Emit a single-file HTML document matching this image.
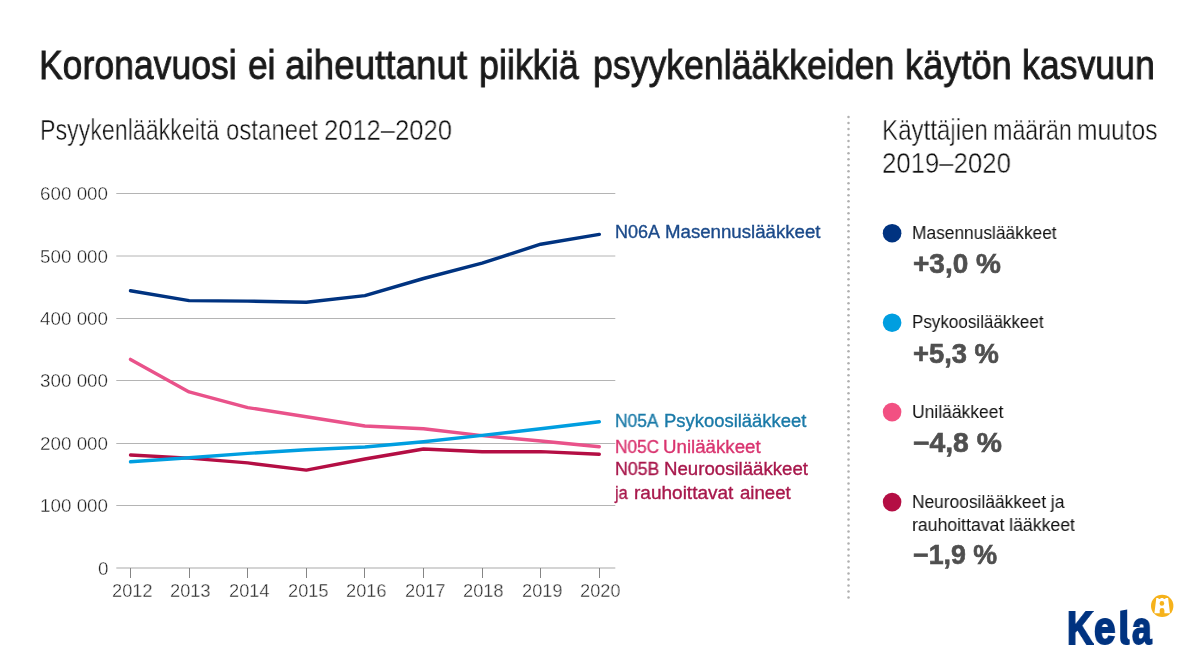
<!DOCTYPE html>
<html lang="fi"><head><meta charset="utf-8"><title>Koronavuosi ei aiheuttanut piikkiä psyykenlääkkeiden käytön kasvuun</title>
<style>
html,body{margin:0;padding:0;background:#fff;}
body{width:1193px;height:665px;position:relative;overflow:hidden;font-family:"Liberation Sans",sans-serif;}
.t{position:absolute;white-space:nowrap;line-height:1;transform-origin:0 0;will-change:transform;}
</style></head><body>
<svg width="1193" height="665" viewBox="0 0 1193 665" style="position:absolute;left:0;top:0">
<line x1="116.3" x2="615.3" y1="505.5" y2="505.5" stroke="#b4b4b4" stroke-width="1"/>
<line x1="116.3" x2="615.3" y1="443.5" y2="443.5" stroke="#b4b4b4" stroke-width="1"/>
<line x1="116.3" x2="615.3" y1="380.5" y2="380.5" stroke="#b4b4b4" stroke-width="1"/>
<line x1="116.3" x2="615.3" y1="318.5" y2="318.5" stroke="#b4b4b4" stroke-width="1"/>
<line x1="116.3" x2="615.3" y1="256.0" y2="256.0" stroke="#b4b4b4" stroke-width="1"/>
<line x1="116.3" x2="615.3" y1="193.5" y2="193.5" stroke="#b4b4b4" stroke-width="1"/>
<line x1="116.3" x2="615.3" y1="568" y2="568" stroke="#d4d4d4" stroke-width="2"/>
<line x1="130.5" x2="130.5" y1="568" y2="578" stroke="#858585" stroke-width="1"/>
<line x1="189.5" x2="189.5" y1="568" y2="578" stroke="#858585" stroke-width="1"/>
<line x1="247.5" x2="247.5" y1="568" y2="578" stroke="#858585" stroke-width="1"/>
<line x1="306.5" x2="306.5" y1="568" y2="578" stroke="#858585" stroke-width="1"/>
<line x1="364.5" x2="364.5" y1="568" y2="578" stroke="#858585" stroke-width="1"/>
<line x1="423.5" x2="423.5" y1="568" y2="578" stroke="#858585" stroke-width="1"/>
<line x1="482.5" x2="482.5" y1="568" y2="578" stroke="#858585" stroke-width="1"/>
<line x1="540.5" x2="540.5" y1="568" y2="578" stroke="#858585" stroke-width="1"/>
<line x1="599.5" x2="599.5" y1="568" y2="578" stroke="#858585" stroke-width="1"/>
<polyline points="130.5,290.8 189.1,300.6 247.7,301.1 306.3,302.2 364.9,295.6 423.5,278.5 482.1,263.2 540.7,244.2 599.3,234.4" fill="none" stroke="#003380" stroke-width="3.4" stroke-linecap="round" stroke-linejoin="round"/>
<polyline points="130.5,455.0 189.1,458.1 247.7,462.9 306.3,470.1 364.9,459.0 423.5,449.0 482.1,451.8 540.7,451.6 599.3,454.2" fill="none" stroke="#b40e44" stroke-width="3.4" stroke-linecap="round" stroke-linejoin="round"/>
<polyline points="130.5,359.4 189.1,391.9 247.7,407.6 306.3,416.7 364.9,426.0 423.5,428.8 482.1,435.6 540.7,441.0 599.3,446.7" fill="none" stroke="#e9528a" stroke-width="3.4" stroke-linecap="round" stroke-linejoin="round"/>
<polyline points="130.5,461.8 189.1,457.7 247.7,453.4 306.3,449.8 364.9,447.0 423.5,441.7 482.1,435.4 540.7,428.8 599.3,421.8" fill="none" stroke="#009ee0" stroke-width="3.4" stroke-linecap="round" stroke-linejoin="round"/>
<circle cx="848.5" cy="117.10" r="1.25" fill="#b0b0b0"/>
<circle cx="848.5" cy="123.10" r="1.25" fill="#b0b0b0"/>
<circle cx="848.5" cy="129.11" r="1.25" fill="#b0b0b0"/>
<circle cx="848.5" cy="135.12" r="1.25" fill="#b0b0b0"/>
<circle cx="848.5" cy="141.12" r="1.25" fill="#b0b0b0"/>
<circle cx="848.5" cy="147.12" r="1.25" fill="#b0b0b0"/>
<circle cx="848.5" cy="153.13" r="1.25" fill="#b0b0b0"/>
<circle cx="848.5" cy="159.13" r="1.25" fill="#b0b0b0"/>
<circle cx="848.5" cy="165.14" r="1.25" fill="#b0b0b0"/>
<circle cx="848.5" cy="171.14" r="1.25" fill="#b0b0b0"/>
<circle cx="848.5" cy="177.15" r="1.25" fill="#b0b0b0"/>
<circle cx="848.5" cy="183.15" r="1.25" fill="#b0b0b0"/>
<circle cx="848.5" cy="189.16" r="1.25" fill="#b0b0b0"/>
<circle cx="848.5" cy="195.16" r="1.25" fill="#b0b0b0"/>
<circle cx="848.5" cy="201.17" r="1.25" fill="#b0b0b0"/>
<circle cx="848.5" cy="207.18" r="1.25" fill="#b0b0b0"/>
<circle cx="848.5" cy="213.18" r="1.25" fill="#b0b0b0"/>
<circle cx="848.5" cy="219.19" r="1.25" fill="#b0b0b0"/>
<circle cx="848.5" cy="225.19" r="1.25" fill="#b0b0b0"/>
<circle cx="848.5" cy="231.19" r="1.25" fill="#b0b0b0"/>
<circle cx="848.5" cy="237.20" r="1.25" fill="#b0b0b0"/>
<circle cx="848.5" cy="243.20" r="1.25" fill="#b0b0b0"/>
<circle cx="848.5" cy="249.21" r="1.25" fill="#b0b0b0"/>
<circle cx="848.5" cy="255.22" r="1.25" fill="#b0b0b0"/>
<circle cx="848.5" cy="261.22" r="1.25" fill="#b0b0b0"/>
<circle cx="848.5" cy="267.23" r="1.25" fill="#b0b0b0"/>
<circle cx="848.5" cy="273.23" r="1.25" fill="#b0b0b0"/>
<circle cx="848.5" cy="279.24" r="1.25" fill="#b0b0b0"/>
<circle cx="848.5" cy="285.24" r="1.25" fill="#b0b0b0"/>
<circle cx="848.5" cy="291.25" r="1.25" fill="#b0b0b0"/>
<circle cx="848.5" cy="297.25" r="1.25" fill="#b0b0b0"/>
<circle cx="848.5" cy="303.25" r="1.25" fill="#b0b0b0"/>
<circle cx="848.5" cy="309.26" r="1.25" fill="#b0b0b0"/>
<circle cx="848.5" cy="315.26" r="1.25" fill="#b0b0b0"/>
<circle cx="848.5" cy="321.27" r="1.25" fill="#b0b0b0"/>
<circle cx="848.5" cy="327.27" r="1.25" fill="#b0b0b0"/>
<circle cx="848.5" cy="333.28" r="1.25" fill="#b0b0b0"/>
<circle cx="848.5" cy="339.28" r="1.25" fill="#b0b0b0"/>
<circle cx="848.5" cy="345.29" r="1.25" fill="#b0b0b0"/>
<circle cx="848.5" cy="351.29" r="1.25" fill="#b0b0b0"/>
<circle cx="848.5" cy="357.30" r="1.25" fill="#b0b0b0"/>
<circle cx="848.5" cy="363.30" r="1.25" fill="#b0b0b0"/>
<circle cx="848.5" cy="369.31" r="1.25" fill="#b0b0b0"/>
<circle cx="848.5" cy="375.31" r="1.25" fill="#b0b0b0"/>
<circle cx="848.5" cy="381.32" r="1.25" fill="#b0b0b0"/>
<circle cx="848.5" cy="387.33" r="1.25" fill="#b0b0b0"/>
<circle cx="848.5" cy="393.33" r="1.25" fill="#b0b0b0"/>
<circle cx="848.5" cy="399.34" r="1.25" fill="#b0b0b0"/>
<circle cx="848.5" cy="405.34" r="1.25" fill="#b0b0b0"/>
<circle cx="848.5" cy="411.35" r="1.25" fill="#b0b0b0"/>
<circle cx="848.5" cy="417.35" r="1.25" fill="#b0b0b0"/>
<circle cx="848.5" cy="423.36" r="1.25" fill="#b0b0b0"/>
<circle cx="848.5" cy="429.36" r="1.25" fill="#b0b0b0"/>
<circle cx="848.5" cy="435.37" r="1.25" fill="#b0b0b0"/>
<circle cx="848.5" cy="441.37" r="1.25" fill="#b0b0b0"/>
<circle cx="848.5" cy="447.38" r="1.25" fill="#b0b0b0"/>
<circle cx="848.5" cy="453.38" r="1.25" fill="#b0b0b0"/>
<circle cx="848.5" cy="459.38" r="1.25" fill="#b0b0b0"/>
<circle cx="848.5" cy="465.39" r="1.25" fill="#b0b0b0"/>
<circle cx="848.5" cy="471.39" r="1.25" fill="#b0b0b0"/>
<circle cx="848.5" cy="477.40" r="1.25" fill="#b0b0b0"/>
<circle cx="848.5" cy="483.40" r="1.25" fill="#b0b0b0"/>
<circle cx="848.5" cy="489.41" r="1.25" fill="#b0b0b0"/>
<circle cx="848.5" cy="495.41" r="1.25" fill="#b0b0b0"/>
<circle cx="848.5" cy="501.42" r="1.25" fill="#b0b0b0"/>
<circle cx="848.5" cy="507.42" r="1.25" fill="#b0b0b0"/>
<circle cx="848.5" cy="513.43" r="1.25" fill="#b0b0b0"/>
<circle cx="848.5" cy="519.43" r="1.25" fill="#b0b0b0"/>
<circle cx="848.5" cy="525.44" r="1.25" fill="#b0b0b0"/>
<circle cx="848.5" cy="531.44" r="1.25" fill="#b0b0b0"/>
<circle cx="848.5" cy="537.45" r="1.25" fill="#b0b0b0"/>
<circle cx="848.5" cy="543.46" r="1.25" fill="#b0b0b0"/>
<circle cx="848.5" cy="549.46" r="1.25" fill="#b0b0b0"/>
<circle cx="848.5" cy="555.47" r="1.25" fill="#b0b0b0"/>
<circle cx="848.5" cy="561.47" r="1.25" fill="#b0b0b0"/>
<circle cx="848.5" cy="567.48" r="1.25" fill="#b0b0b0"/>
<circle cx="848.5" cy="573.48" r="1.25" fill="#b0b0b0"/>
<circle cx="848.5" cy="579.49" r="1.25" fill="#b0b0b0"/>
<circle cx="848.5" cy="585.49" r="1.25" fill="#b0b0b0"/>
<circle cx="848.5" cy="591.50" r="1.25" fill="#b0b0b0"/>
<circle cx="848.5" cy="597.50" r="1.25" fill="#b0b0b0"/>
<circle cx="892.1" cy="233.2" r="9.3" fill="#003380"/>
<circle cx="892.1" cy="322.7" r="9.3" fill="#009ee0"/>
<circle cx="892.1" cy="412.1" r="9.3" fill="#f25082"/>
<circle cx="892.1" cy="502.1" r="9.3" fill="#b40e44"/>
<g id="kelamark"><circle cx="1162.2" cy="605.9" r="11.2" fill="#f6b21b"/><path d="M1156.3 598.1 L1168.1 598.1 L1170.0 613.2 L1164.4 613.2 L1164.4 610.3 A2.35 2.35 0 0 0 1159.7 610.3 L1159.7 613.2 L1154.4 613.2 Z" fill="#fff"/><circle cx="1159.5" cy="597.8" r="1.3" fill="#f6b21b"/><circle cx="1164.4" cy="597.8" r="1.3" fill="#f6b21b"/><circle cx="1161.9" cy="603.4" r="2.3" fill="#f6b21b"/></g>
<path d="M1120.2 610.7 L1127.2 609.6 L1127.2 636.3 Q1127.2 639.2 1129.7 639.5 L1129.7 644.4 Q1128 645.0 1126.0 645.0 Q1120.2 645.0 1120.2 638.5 Z" fill="#003380"/>
</svg>
<div class="t" style="left:39.29px;top:45.00px;font-size:41.4px;color:#1a1a1a;transform:scaleX(0.8585);-webkit-text-stroke:0.85px #1a1a1a;">Koronavuosi</div>
<div class="t" style="left:247.96px;top:45.00px;font-size:41.4px;color:#1a1a1a;transform:scaleX(0.8503);-webkit-text-stroke:0.85px #1a1a1a;">ei</div>
<div class="t" style="left:285.23px;top:45.00px;font-size:41.4px;color:#1a1a1a;transform:scaleX(0.8896);-webkit-text-stroke:0.85px #1a1a1a;">aiheuttanut</div>
<div class="t" style="left:479.32px;top:45.00px;font-size:41.4px;color:#1a1a1a;transform:scaleX(0.8673);-webkit-text-stroke:0.85px #1a1a1a;">piikkiä</div>
<div class="t" style="left:592.54px;top:45.00px;font-size:41.4px;color:#1a1a1a;transform:scaleX(0.8613);-webkit-text-stroke:0.85px #1a1a1a;">psyykenlääkkeiden</div>
<div class="t" style="left:904.71px;top:45.00px;font-size:41.4px;color:#1a1a1a;transform:scaleX(0.8744);-webkit-text-stroke:0.85px #1a1a1a;">käytön</div>
<div class="t" style="left:1022.34px;top:45.00px;font-size:41.4px;color:#1a1a1a;transform:scaleX(0.8612);-webkit-text-stroke:0.85px #1a1a1a;">kasvuun</div>
<div class="t" style="left:39.74px;top:115.70px;font-size:28.7px;color:#111;transform:scaleX(0.8084);-webkit-text-stroke:0.45px #fff;">Psyykenlääkkeitä</div>
<div class="t" style="left:225.70px;top:115.70px;font-size:28.7px;color:#111;transform:scaleX(0.8362);-webkit-text-stroke:0.45px #fff;">ostaneet</div>
<div class="t" style="left:323.54px;top:115.70px;font-size:28.7px;color:#111;transform:scaleX(0.8907);-webkit-text-stroke:0.45px #fff;">2012–2020</div>
<div class="t" style="left:881.76px;top:115.50px;font-size:28.7px;color:#111;transform:scaleX(0.8405);-webkit-text-stroke:0.45px #fff;">Käyttäjien</div>
<div class="t" style="left:992.90px;top:115.50px;font-size:28.7px;color:#111;transform:scaleX(0.8114);-webkit-text-stroke:0.45px #fff;">määrän</div>
<div class="t" style="left:1077.01px;top:115.50px;font-size:28.7px;color:#111;transform:scaleX(0.8554);-webkit-text-stroke:0.45px #fff;">muutos</div>
<div class="t" style="left:882.43px;top:148.80px;font-size:28.7px;color:#111;transform:scaleX(0.8971);-webkit-text-stroke:0.45px #fff;">2019–2020</div>
<div class="t" style="left:97.73px;top:559.50px;font-size:18.3px;color:#222;transform:scaleX(1.0300);-webkit-text-stroke:0.35px #fff;">0</div>
<div class="t" style="left:40.08px;top:497.00px;font-size:18.3px;color:#222;transform:scaleX(1.0300);-webkit-text-stroke:0.35px #fff;">100 000</div>
<div class="t" style="left:40.08px;top:435.00px;font-size:18.3px;color:#222;transform:scaleX(1.0300);-webkit-text-stroke:0.35px #fff;">200 000</div>
<div class="t" style="left:40.08px;top:372.00px;font-size:18.3px;color:#222;transform:scaleX(1.0300);-webkit-text-stroke:0.35px #fff;">300 000</div>
<div class="t" style="left:40.08px;top:310.00px;font-size:18.3px;color:#222;transform:scaleX(1.0300);-webkit-text-stroke:0.35px #fff;">400 000</div>
<div class="t" style="left:40.08px;top:247.50px;font-size:18.3px;color:#222;transform:scaleX(1.0300);-webkit-text-stroke:0.35px #fff;">500 000</div>
<div class="t" style="left:40.08px;top:185.00px;font-size:18.3px;color:#222;transform:scaleX(1.0300);-webkit-text-stroke:0.35px #fff;">600 000</div>
<div class="t" style="left:111.79px;top:582.00px;font-size:18.3px;color:#222;transform:scaleX(0.9950);-webkit-text-stroke:0.35px #fff;">2012</div>
<div class="t" style="left:170.39px;top:582.00px;font-size:18.3px;color:#222;transform:scaleX(0.9950);-webkit-text-stroke:0.35px #fff;">2013</div>
<div class="t" style="left:228.85px;top:582.00px;font-size:18.3px;color:#222;transform:scaleX(0.9950);-webkit-text-stroke:0.35px #fff;">2014</div>
<div class="t" style="left:287.59px;top:582.00px;font-size:18.3px;color:#222;transform:scaleX(0.9950);-webkit-text-stroke:0.35px #fff;">2015</div>
<div class="t" style="left:346.19px;top:582.00px;font-size:18.3px;color:#222;transform:scaleX(0.9950);-webkit-text-stroke:0.35px #fff;">2016</div>
<div class="t" style="left:404.79px;top:582.00px;font-size:18.3px;color:#222;transform:scaleX(0.9950);-webkit-text-stroke:0.35px #fff;">2017</div>
<div class="t" style="left:463.39px;top:582.00px;font-size:18.3px;color:#222;transform:scaleX(0.9950);-webkit-text-stroke:0.35px #fff;">2018</div>
<div class="t" style="left:521.99px;top:582.00px;font-size:18.3px;color:#222;transform:scaleX(0.9950);-webkit-text-stroke:0.35px #fff;">2019</div>
<div class="t" style="left:580.45px;top:582.00px;font-size:18.3px;color:#222;transform:scaleX(0.9950);-webkit-text-stroke:0.35px #fff;">2020</div>
<div class="t" style="left:614.57px;top:223.20px;font-size:18.0px;color:#1b4a8a;transform:scaleX(0.9964);-webkit-text-stroke:0.35px #1b4a8a;">N06A</div>
<div class="t" style="left:665.12px;top:223.20px;font-size:18.0px;color:#1b4a8a;transform:scaleX(1.0362);-webkit-text-stroke:0.35px #1b4a8a;">Masennuslääkkeet</div>
<div class="t" style="left:614.61px;top:411.80px;font-size:18.0px;color:#1a7aa8;transform:scaleX(0.9646);-webkit-text-stroke:0.35px #1a7aa8;">N05A</div>
<div class="t" style="left:663.54px;top:411.80px;font-size:18.0px;color:#1a7aa8;transform:scaleX(1.0241);-webkit-text-stroke:0.35px #1a7aa8;">Psykoosilääkkeet</div>
<div class="t" style="left:614.62px;top:437.70px;font-size:18.0px;color:#d9346f;transform:scaleX(0.9585);-webkit-text-stroke:0.35px #d9346f;">N05C</div>
<div class="t" style="left:663.01px;top:437.70px;font-size:18.0px;color:#d9346f;transform:scaleX(1.0382);-webkit-text-stroke:0.35px #d9346f;">Unilääkkeet</div>
<div class="t" style="left:614.59px;top:460.40px;font-size:18.0px;color:#a8184c;transform:scaleX(0.9835);-webkit-text-stroke:0.35px #a8184c;">N05B</div>
<div class="t" style="left:663.52px;top:460.40px;font-size:18.0px;color:#a8184c;transform:scaleX(1.0356);-webkit-text-stroke:0.35px #a8184c;">Neuroosilääkkeet</div>
<div class="t" style="left:615.27px;top:483.60px;font-size:18.0px;color:#a8184c;transform:scaleX(0.9045);-webkit-text-stroke:0.35px #a8184c;">ja</div>
<div class="t" style="left:634.20px;top:483.60px;font-size:18.0px;color:#a8184c;transform:scaleX(1.0563);-webkit-text-stroke:0.35px #a8184c;">rauhoittavat</div>
<div class="t" style="left:739.80px;top:483.60px;font-size:18.0px;color:#a8184c;transform:scaleX(1.0329);-webkit-text-stroke:0.35px #a8184c;">aineet</div>
<div class="t" style="left:911.54px;top:223.90px;font-size:18.3px;color:#111;transform:scaleX(0.9489);">Masennuslääkkeet</div>
<div class="t" style="left:911.87px;top:312.90px;font-size:18.3px;color:#111;transform:scaleX(0.9313);">Psykoosilääkkeet</div>
<div class="t" style="left:911.91px;top:402.70px;font-size:18.3px;color:#111;transform:scaleX(0.9562);">Unilääkkeet</div>
<div class="t" style="left:911.64px;top:492.70px;font-size:18.3px;color:#111;transform:scaleX(0.9491);">Neuroosilääkkeet ja</div>
<div class="t" style="left:911.90px;top:515.60px;font-size:18.3px;color:#111;transform:scaleX(0.9661);">rauhoittavat lääkkeet</div>
<div class="t" style="left:913.24px;top:251.00px;font-size:26.8px;color:#4f4f4f;transform:scaleX(1.0435);font-weight:bold;-webkit-text-stroke:0.6px #4f4f4f;">+3,0 %</div>
<div class="t" style="left:913.25px;top:340.70px;font-size:26.8px;color:#4f4f4f;transform:scaleX(1.0208);font-weight:bold;-webkit-text-stroke:0.6px #4f4f4f;">+5,3 %</div>
<div class="t" style="left:912.63px;top:430.30px;font-size:26.8px;color:#4f4f4f;transform:scaleX(1.0555);font-weight:bold;-webkit-text-stroke:0.6px #4f4f4f;">−4,8 %</div>
<div class="t" style="left:912.67px;top:542.30px;font-size:26.8px;color:#4f4f4f;transform:scaleX(0.9944);font-weight:bold;-webkit-text-stroke:0.6px #4f4f4f;">−1,9 %</div>
<div class="t" style="left:1066.92px;top:605.20px;font-size:46.3px;color:#003380;transform:scaleX(0.7812);font-weight:bold;-webkit-text-stroke:2.0px #003380;">K</div>
<div class="t" style="left:1094.03px;top:605.20px;font-size:46.3px;color:#003380;transform:scaleX(0.8310);font-weight:bold;-webkit-text-stroke:2.0px #003380;">e</div>
<div class="t" style="left:1131.91px;top:605.20px;font-size:46.3px;color:#003380;transform:scaleX(0.7577);font-weight:bold;-webkit-text-stroke:2.0px #003380;">a</div>
</body></html>
